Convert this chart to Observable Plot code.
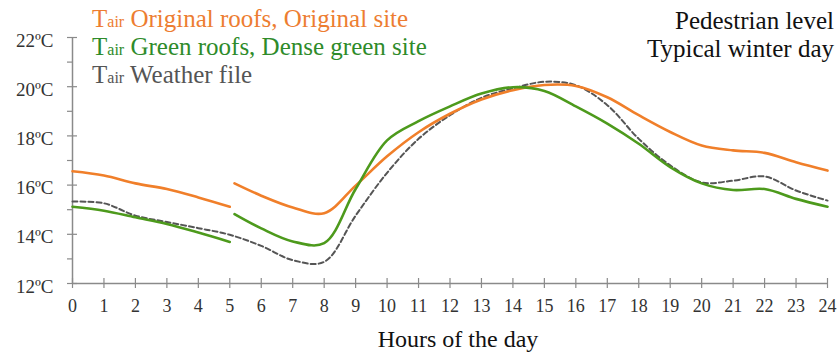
<!DOCTYPE html>
<html>
<head>
<meta charset="utf-8">
<script src="https://cdn.jsdelivr.net/npm/d3@7"></script>
<script src="https://cdn.jsdelivr.net/npm/@observablehq/plot@0.6"></script>
<style>
  html, body { margin: 0; padding: 0; background: #fff; }
  svg { display: block; }
</style>
</head>
<body>
<div id="chart"></div>
<script>
// Hours of the day (5 → 5.15 marks the break in the simulated series)
const hours = [0,1,2,3,4,5,5.15,6,7,8,9,10,11,12,13,14,15,16,17,18,19,20,21,22,23,24];
// Tair Original roofs, Original site
const original = [16.56,16.39,16.07,15.84,15.5,15.12,16.07,15.57,15.09,14.86,15.98,17.17,18.15,18.9,19.48,19.86,20.07,20.03,19.57,18.84,18.16,17.61,17.41,17.31,16.93,16.59];
// Tair Green roofs, Dense green site
const greenRoofs = [15.12,14.96,14.69,14.42,14.07,13.69,14.82,14.24,13.71,13.64,15.84,17.82,18.6,19.2,19.72,19.98,19.83,19.2,18.5,17.68,16.73,16.07,15.8,15.84,15.44,15.12];
// Tair Weather file (continuous; no value at the 5.15 break point)
const weather = [15.33,15.26,14.76,14.5,14.25,13.98,null,13.53,12.95,12.88,14.76,16.5,17.88,18.84,19.55,19.93,20.2,20.06,19.25,17.88,16.8,16.11,16.18,16.35,15.78,15.37];

const xTicks = d3.range(0, 25, 1);
const yMajor = [12,14,16,18,20,22];
const yMinor = [13,15,17,19,21];
const breakHour = 5;

const legendItems = [
  {label: "Original roofs, Original site", color: "#ED7D31"},
  {label: "Green roofs, Dense green site", color: "#2E8B2A"},
  {label: "Weather file", color: "#555555"}
];
const cornerText = ["Pedestrian level", "Typical winter day"];
const xLabel = "Hours of the day";

const ORANGE = "#F07F2A", GREEN = "#4D9A1C", GREY = "#555555", AXIS = "#8a8a8a";
const FONT = "'Liberation Serif', 'Times New Roman', serif";

const rows = (vals, name, split) => hours
  .map((h, i) => ({h, t: vals[i], name, seg: split && h > breakHour ? 1 : 0}))
  .filter(d => d.t != null);

const svg = Plot.plot({
  width: 839,
  height: 354,
  marginLeft: 72,
  marginRight: 12,
  marginTop: 37,
  marginBottom: 71,
  x: {domain: [0, 24]},
  y: {domain: [12, 22]},
  style: {fontFamily: FONT, background: "#fff", color: "#333"},
  marks: [
    Plot.axisX(xTicks, {tickSize: 0, tickPadding: 16, fontSize: 18, fill: "#333", label: null}),
    Plot.axisY(yMajor, {tickSize: 0, tickPadding: 19, fontSize: 19, fill: "#333", dy: 3, tickFormat: d => d + "ºC", label: null}),
    Plot.ruleY([12], {stroke: AXIS, strokeWidth: 1.5}),
    Plot.ruleX([0], {stroke: AXIS, strokeWidth: 1.5}),
    Plot.ruleX(xTicks, {x: d => d, y1: 12, y2: 12, insetTop: -5, insetBottom: -5, stroke: AXIS, strokeWidth: 1.2}),
    Plot.ruleY(yMajor, {y: d => d, x1: 0, x2: 0, insetLeft: -5, insetRight: -5, stroke: AXIS, strokeWidth: 1.2}),
    Plot.ruleY(yMinor, {y: d => d, x1: 0, x2: 0, insetLeft: -5, insetRight: 0, stroke: AXIS, strokeWidth: 1.2}),
    Plot.line(rows(weather, "weather", false), {x: "h", y: "t", stroke: GREY, strokeWidth: 2, strokeDasharray: "5,3", curve: "catmull-rom"}),
    Plot.line(rows(original, "original", true), {x: "h", y: "t", z: "seg", stroke: ORANGE, strokeWidth: 2.6, curve: "catmull-rom"}),
    Plot.line(rows(greenRoofs, "green", true), {x: "h", y: "t", z: "seg", stroke: GREEN, strokeWidth: 2.6, curve: "catmull-rom"})
  ]
});

const s = d3.select(svg);
// Legend (inside the plot, top-left)
legendItems.forEach((d, i) => {
  const t = s.append("text")
    .attr("x", 92)
    .attr("y", 27 + i * 28)
    .attr("text-anchor", "start")
    .attr("fill", d.color)
    .attr("font-family", FONT)
    .attr("font-size", 25);
  t.append("tspan").text("T");
  t.append("tspan").attr("font-size", 16).text("air");
  t.append("tspan").text(" " + d.label);
});
// Corner text (top-right)
cornerText.forEach((d, i) => {
  s.append("text")
    .attr("x", 834)
    .attr("y", 29 + i * 28)
    .attr("text-anchor", "end")
    .attr("fill", "#111")
    .attr("font-family", FONT)
    .attr("font-size", 25)
    .text(d);
});
// X axis title
s.append("text")
  .attr("x", 458)
  .attr("y", 347)
  .attr("text-anchor", "middle")
  .attr("fill", "#111")
  .attr("font-family", FONT)
  .attr("font-size", 24)
  .text(xLabel);

document.getElementById("chart").append(svg);
</script>
</body>
</html>
